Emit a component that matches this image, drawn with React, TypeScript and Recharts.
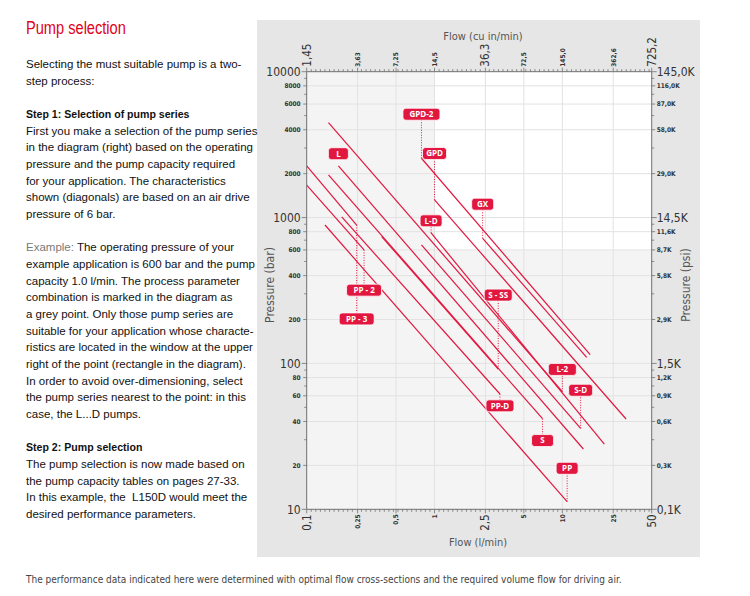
import React from "react";
import {
  LineChart,
  Line,
  XAxis,
  YAxis,
  ReferenceArea,
  ReferenceLine,
  ReferenceDot,
} from "recharts";

const RED = "#e2173f";
const AXIS = "#707070";
const GRID = "#e2e2e2";
const NARROW = "'DejaVu Sans Condensed', sans-serif";
const BODY = "'Liberation Sans', Arial, sans-serif";

// flow axis: l/min below, cu in/min above (same positions)
const flowTicks = [0.1, 0.25, 0.5, 1, 2.5, 5, 10, 25, 50];
const flowLabels = ["0,1", "0,25", "0,5", "1", "2,5", "5", "10", "25", "50"];
const cuInLabels = ["1,45", "3,63", "7,25", "14,5", "36,3", "72,5", "145,0", "362,6", "725,2"];
const flowBig = [0.1, 2.5, 50];

// pressure axis: bar on the left, psi on the right
const pressureTicks = [10, 20, 40, 60, 80, 100, 200, 400, 600, 800, 1000, 2000, 4000, 6000, 8000, 10000];
const psiLabels = [
  "0,1K", "0,3K", "0,6K", "0,9K", "1,2K", "1,5K", "2,9K", "5,8K",
  "8,7K", "11,6K", "14,5K", "29,0K", "58,0K", "87,0K", "116,0K", "145,0K",
];
const pressureBig = [10, 100, 1000, 10000];
const pressureMinor = [30, 50, 70, 90, 300, 500, 700, 900, 3000, 5000, 7000, 9000];

// the example from the text: 600 bar at 1.0 l/min, window is up and right of it
const exampleFlow = 1;
const examplePressure = 600;

// pump series characteristics, start and end (l/min, bar)
const gpd2 = [{ q: 0.79, p: 2550 }, { q: 16.5, p: 115 }];
const gx = [{ q: 2.38, p: 720 }, { q: 15.5, p: 110 }];
const gpd = [{ q: 1.0, p: 1320 }, { q: 31.5, p: 41.6 }];
const lSeries = [{ q: 0.177, p: 2260 }, { q: 14.6, p: 25.9 }];
const l2 = [{ q: 0.148, p: 4470 }, { q: 10, p: 64 }];
const ld = [{ q: 0.94, p: 784 }, { q: 21.3, p: 28 }];
const sd = [{ q: 0.79, p: 650 }, { q: 13.9, p: 35.9 }];
const sSeries = [{ q: 0.148, p: 1960 }, { q: 7.0, p: 41.8 }];
const sss = [{ q: 0.386, p: 740 }, { q: 3.15, p: 91.5 }];
const ppd = [{ q: 0.188, p: 1010 }, { q: 3.25, p: 61.7 }];
const pp = [{ q: 0.139, p: 889 }, { q: 10.9, p: 11.3 }];
const pp2 = [{ q: 0.1, p: 1670 }, { q: 0.281, p: 600 }];
const pp3 = [{ q: 0.1, p: 2260 }, { q: 0.246, p: 889 }];

const pumpLines = [gpd2, gx, gpd, lSeries, l2, ld, sd, sSeries, sss, ppd, pp, pp2, pp3];

// tag for each line: name, which end it points at, pressure where it sits
const tagNames = ["GPD-2", "GX", "GPD", "L", "L-2", "L-D", "S-D", "S", "S - SS", "PP-D", "PP", "PP - 2", "PP - 3"];
const tagEnd = [0, 0, 0, 0, 1, 0, 1, 1, 1, 1, 1, 1, 1];
const tagPressure = [5110, 1235, 2750, 2740, 91, 950, 65.5, 29.6, 294, 51.2, 19.1, 318, 202];
const tagLeader = [true, true, true, false, true, true, true, true, true, true, true, true, true];

const tagWidth: { [k: string]: number } = {
  "GPD-2": 37, GX: 22, GPD: 24, L: 20, "L-2": 28, "L-D": 22, "S-D": 24,
  S: 22, "S - SS": 28, "PP-D": 28, PP: 22, "PP - 2": 35, "PP - 3": 35,
};

// minor ticks along the flow axes, evenly spaced on the log scale
const flowMinor: number[] = [];
for (let i = 1; i < 76; i++) {
  const v = Math.pow(10, -1 + i / 28);
  if (v < 50 && !flowTicks.some((t) => Math.abs(Math.log10(t / v)) < 0.012)) flowMinor.push(v);
}

const tickFont = { fontFamily: NARROW, fill: "#333" };

const BottomTick = ({ x, y, payload }: any) => {
  const i = flowTicks.indexOf(payload.value);
  const big = flowBig.includes(payload.value);
  return (
    <g>
      <line x1={x} x2={x} y1={y} y2={y + (i >= 0 ? 4 : 2.5)} stroke={AXIS} strokeWidth={0.8} />
      {i >= 0 && (
        <text
          transform={`translate(${x},${y + 5}) rotate(-90)`}
          textAnchor="end"
          dy="0.35em"
          fontSize={big ? 11.5 : 6.5}
          fontWeight={big ? "normal" : "bold"}
          {...tickFont}
        >
          {flowLabels[i]}
        </text>
      )}
    </g>
  );
};

const TopTick = ({ x, y, payload }: any) => {
  const i = flowTicks.indexOf(payload.value);
  const big = flowBig.includes(payload.value);
  return (
    <g>
      <line x1={x} x2={x} y1={y} y2={y - (i >= 0 ? 4 : 2.5)} stroke={AXIS} strokeWidth={0.8} />
      {i >= 0 && (
        <text
          transform={`translate(${x},${y - 5}) rotate(-90)`}
          textAnchor="start"
          dy="0.35em"
          fontSize={big ? 11.5 : 6.5}
          fontWeight={big ? "normal" : "bold"}
          {...tickFont}
        >
          {cuInLabels[i]}
        </text>
      )}
    </g>
  );
};

const LeftTick = ({ x, y, payload }: any) => {
  const i = pressureTicks.indexOf(payload.value);
  const big = pressureBig.includes(payload.value);
  return (
    <g>
      <line x1={x - (big ? 5 : i >= 0 ? 3.5 : 2.5)} x2={x} y1={y} y2={y} stroke={AXIS} strokeWidth={0.8} />
      {i >= 0 && (
        <text
          x={x - 6}
          y={y}
          dy="0.35em"
          textAnchor="end"
          fontSize={big ? 12 : 6.5}
          fontWeight={big ? "normal" : "bold"}
          {...tickFont}
        >
          {payload.value}
        </text>
      )}
    </g>
  );
};

const RightTick = ({ x, y, payload }: any) => {
  const i = pressureTicks.indexOf(payload.value);
  const big = pressureBig.includes(payload.value);
  return (
    <g>
      <line x1={x} x2={x + (big ? 5 : i >= 0 ? 3.5 : 2.5)} y1={y} y2={y} stroke={AXIS} strokeWidth={0.8} />
      {i >= 0 && (
        <text
          x={x + 5}
          y={y}
          dy="0.35em"
          textAnchor="start"
          fontSize={big ? 12 : 6.5}
          fontWeight={big ? "normal" : "bold"}
          {...tickFont}
        >
          {psiLabels[i]}
        </text>
      )}
    </g>
  );
};

const Tag = ({ cx, cy, name }: any) => {
  const w = tagWidth[name] || 24;
  return (
    <g>
      <rect x={cx - w / 2} y={cy - 6} width={w} height={12} rx={3} fill={RED} stroke="#fff" strokeWidth={0.8} />
      <text
        x={cx}
        y={cy}
        dy="0.36em"
        textAnchor="middle"
        fill="#fff"
        fontSize={8}
        fontWeight="bold"
        fontFamily="'Open Sans', 'DejaVu Sans', sans-serif"
      >
        {name}
      </text>
    </g>
  );
};

const axisTitle: React.CSSProperties = {
  position: "absolute",
  fontFamily: NARROW,
  fontSize: 11,
  color: "#555",
  whiteSpace: "nowrap",
  transform: "translate(-50%, -50%)",
};

const sideTitle: React.CSSProperties = {
  ...axisTitle,
  fontSize: 12,
  transform: "translate(-50%, -50%) rotate(-90deg)",
};

const bold: React.CSSProperties = {
  fontWeight: "bold",
  transform: "scaleX(0.92)",
  transformOrigin: "0 0",
};

export default function App() {
  return (
    <div style={{ position: "absolute", left: 0, top: 0, width: 750, height: 596, background: "#fff", overflow: "hidden" }}>
      <div style={{ position: "absolute", left: 257, top: 20, width: 443, height: 537, background: "#e6e6e6" }} />

      <div
        style={{
          position: "absolute",
          left: 26,
          top: 17.5,
          fontFamily: BODY,
          fontSize: 17.6,
          lineHeight: "20px",
          color: "#e2001a",
          whiteSpace: "nowrap",
          transform: "scaleX(0.83)",
          transformOrigin: "0 0",
        }}
      >
        Pump selection
      </div>

      <div
        style={{
          position: "absolute",
          left: 26,
          top: 56,
          fontFamily: BODY,
          fontSize: 11.5,
          lineHeight: "16.67px",
          color: "#111",
          whiteSpace: "nowrap",
        }}
      >
        <div>Selecting the must suitable pump is a two-</div>
        <div>step process:</div>
        <div>&nbsp;</div>
        <div style={bold}>Step 1: Selection of pump series</div>
        <div>First you make a selection of the pump series</div>
        <div>in the diagram (right) based on the operating</div>
        <div>pressure and the pump capacity required</div>
        <div>for your application. The characteristics</div>
        <div>shown (diagonals) are based on an air drive</div>
        <div>pressure of 6 bar.</div>
        <div>&nbsp;</div>
        <div>
          <span style={{ color: "#7a7a7a" }}>Example:</span> The operating pressure of your
        </div>
        <div>example application is 600 bar and the pump</div>
        <div>capacity 1.0 l/min. The process parameter</div>
        <div>combination is marked in the diagram as</div>
        <div>a grey point. Only those pump series are</div>
        <div>suitable for your application whose characte-</div>
        <div>ristics are located in the window at the upper</div>
        <div>right of the point (rectangle in the diagram).</div>
        <div>In order to avoid over-dimensioning, select</div>
        <div>the pump series nearest to the point: in this</div>
        <div>case, the L...D pumps.</div>
        <div>&nbsp;</div>
        <div style={bold}>Step 2: Pump selection</div>
        <div>The pump selection is now made based on</div>
        <div>the pump capacity tables on pages 27-33.</div>
        <div>In this example, the&nbsp; L150D would meet the</div>
        <div>desired performance parameters.</div>
      </div>

      <div style={{ position: "absolute", left: 26, top: 574, fontFamily: NARROW, fontSize: 10, color: "#444", whiteSpace: "nowrap" }}>
        The performance data indicated here were determined with optimal flow cross-sections and the required volume flow for driving air.
      </div>

      <div style={{ ...axisTitle, left: 483, top: 36 }}>Flow (cu in/min)</div>
      <div style={{ ...axisTitle, left: 478, top: 542 }}>Flow (l/min)</div>
      <div style={{ ...sideTitle, left: 270, top: 285 }}>Pressure (bar)</div>
      <div style={{ ...sideTitle, left: 686, top: 285 }}>Pressure (psi)</div>

      <div style={{ position: "absolute", left: 0, top: 0 }}>
        <LineChart width={750} height={596} margin={{ top: 31.7, right: 58.3, bottom: 46.7, left: 266.7 }}>
          <XAxis
            xAxisId="b"
            orientation="bottom"
            type="number"
            dataKey="q"
            scale="log"
            domain={[0.1, 50]}
            allowDataOverflow
            ticks={[...flowTicks, ...flowMinor]}
            interval={0}
            tickSize={0}
            tickMargin={0}
            tickLine={false}
            tick={BottomTick}
            height={40}
            axisLine={{ stroke: AXIS }}
          />
          <XAxis
            xAxisId="t"
            orientation="top"
            type="number"
            dataKey="q"
            scale="log"
            domain={[0.1, 50]}
            allowDataOverflow
            ticks={[...flowTicks, ...flowMinor]}
            interval={0}
            tickSize={0}
            tickMargin={0}
            tickLine={false}
            tick={TopTick}
            height={40}
            axisLine={{ stroke: AXIS }}
          />
          <YAxis
            yAxisId="l"
            orientation="left"
            type="number"
            scale="log"
            domain={[10, 10000]}
            allowDataOverflow
            ticks={[...pressureTicks, ...pressureMinor]}
            interval={0}
            tickSize={0}
            tickMargin={0}
            tickLine={false}
            tick={LeftTick}
            width={40}
            axisLine={{ stroke: AXIS }}
          />
          <YAxis
            yAxisId="r"
            orientation="right"
            type="number"
            scale="log"
            domain={[10, 10000]}
            allowDataOverflow
            ticks={[...pressureTicks, ...pressureMinor]}
            interval={0}
            tickSize={0}
            tickMargin={0}
            tickLine={false}
            tick={RightTick}
            width={40}
            axisLine={{ stroke: AXIS }}
          />

          <ReferenceArea xAxisId="b" yAxisId="l" x1={0.1} x2={50} y1={10} y2={10000} fill="#f4f4f4" fillOpacity={1} />
          <ReferenceArea
            xAxisId="b"
            yAxisId="l"
            x1={exampleFlow}
            x2={50}
            y1={examplePressure}
            y2={10000}
            fill="#ffffff"
            fillOpacity={1}
          />

          {flowTicks.slice(1, -1).map((v) => (
            <ReferenceLine key={"gx" + v} xAxisId="b" yAxisId="l" x={v} stroke={GRID} strokeWidth={1} />
          ))}
          {pressureTicks.slice(1, -1).map((v) => (
            <ReferenceLine key={"gy" + v} xAxisId="b" yAxisId="l" y={v} stroke={GRID} strokeWidth={1} />
          ))}

          {pumpLines.map((d, i) => (
            <Line
              key={tagNames[i]}
              xAxisId="b"
              yAxisId="l"
              data={d}
              dataKey="p"
              type="linear"
              stroke={RED}
              strokeWidth={1.2}
              dot={false}
              activeDot={false}
              isAnimationActive={false}
            />
          ))}

          {pumpLines.map((d, i) =>
            tagLeader[i] ? (
              <ReferenceLine
                key={"ld" + i}
                xAxisId="b"
                yAxisId="l"
                segment={[
                  { x: d[tagEnd[i]].q, y: d[tagEnd[i]].p },
                  { x: d[tagEnd[i]].q, y: tagPressure[i] },
                ]}
                stroke={RED}
                strokeWidth={1}
                strokeDasharray="1 1.5"
              />
            ) : null
          )}

          {pumpLines.map((d, i) => (
            <ReferenceDot
              key={"tag" + i}
              xAxisId="b"
              yAxisId="l"
              x={d[tagEnd[i]].q}
              y={tagPressure[i]}
              r={6}
              shape={(props: any) => <Tag {...props} name={tagNames[i]} />}
            />
          ))}
        </LineChart>
      </div>
    </div>
  );
}
